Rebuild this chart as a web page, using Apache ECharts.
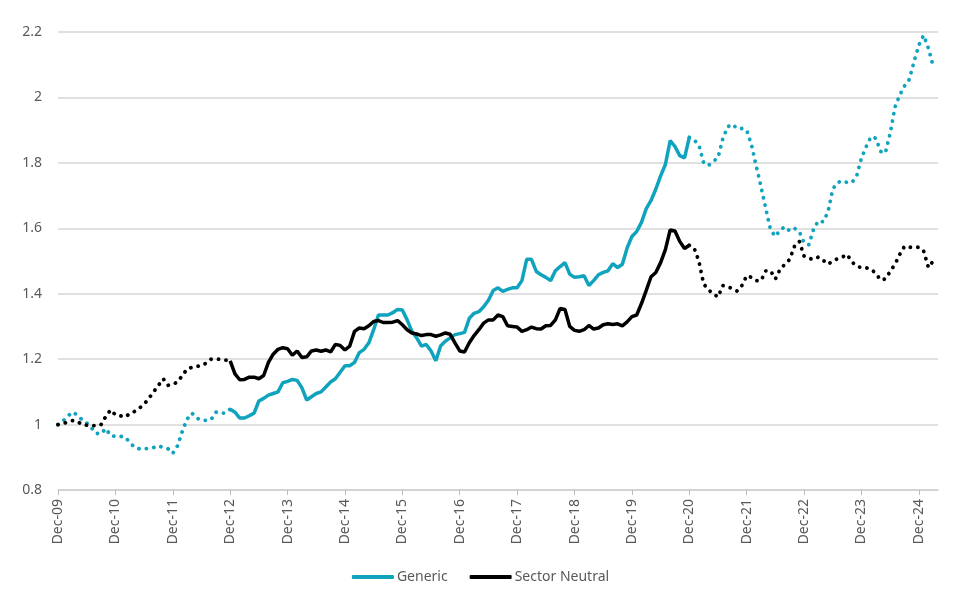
<!DOCTYPE html>
<html>
<head>
<meta charset="utf-8">
<script src="https://cdn.jsdelivr.net/npm/echarts@6/dist/echarts.min.js"></script>
<style>
html,body{margin:0;padding:0;background:#fff;}
#chart{width:961px;height:597px;}
</style>
</head>
<body>
<div id="chart"></div>
<script>
// Monthly observations, Dec-09 .. Mar-25
const genericValues = [
  1.0, 1.01, 1.025, 1.038, 1.03, 1.015, 1.005, 0.99, 0.973, 0.972, 0.988, 0.966, 0.964,
  0.964, 0.962, 0.946, 0.93, 0.926, 0.926, 0.927, 0.93, 0.935, 0.93, 0.926, 0.912,
  0.935, 0.98, 1.017, 1.035, 1.02, 1.013, 1.013, 1.015, 1.038, 1.035, 1.035, 1.047,
  1.038, 1.02, 1.02, 1.027, 1.035, 1.072, 1.08, 1.09, 1.095, 1.1, 1.128, 1.132,
  1.138, 1.135, 1.112, 1.075, 1.085, 1.095, 1.1, 1.115, 1.13, 1.14, 1.16, 1.18,
  1.18, 1.19, 1.22, 1.23, 1.25, 1.29, 1.335, 1.335, 1.335, 1.342, 1.352, 1.35,
  1.32, 1.285, 1.265, 1.24, 1.245, 1.225, 1.195, 1.24, 1.255, 1.265, 1.275, 1.278,
  1.282, 1.325, 1.34, 1.345, 1.36, 1.38, 1.41, 1.418, 1.407, 1.413, 1.418, 1.418,
  1.44, 1.505, 1.505, 1.468, 1.458, 1.45, 1.44, 1.47, 1.483, 1.495, 1.46, 1.45,
  1.452, 1.455, 1.425, 1.44, 1.458, 1.465, 1.47, 1.492, 1.48, 1.49, 1.54, 1.575,
  1.59, 1.618, 1.66, 1.685, 1.72, 1.76, 1.795, 1.868, 1.85, 1.822, 1.815, 1.878,
  1.87, 1.855, 1.8, 1.792, 1.805, 1.815, 1.873, 1.91, 1.918, 1.905, 1.905, 1.9,
  1.855, 1.79, 1.727, 1.66, 1.595, 1.575, 1.595, 1.605, 1.592, 1.6, 1.59, 1.555,
  1.55, 1.598, 1.623, 1.62, 1.65, 1.72, 1.74, 1.745, 1.74, 1.74, 1.76, 1.815,
  1.85, 1.88, 1.875, 1.835, 1.83, 1.89, 1.97, 2.007, 2.035, 2.055, 2.11, 2.16,
  2.19, 2.15, 2.095
];
const sectorNeutralValues = [
  1.0, 1.003, 1.007, 1.012, 1.01, 1.0, 0.998, 0.997, 0.996, 1.0, 1.025, 1.045, 1.03,
  1.027, 1.023, 1.033, 1.04, 1.05, 1.062, 1.08, 1.1, 1.12, 1.14, 1.12, 1.123,
  1.13, 1.15, 1.17, 1.175, 1.178, 1.18, 1.188, 1.2, 1.2, 1.2, 1.197, 1.195,
  1.155, 1.137, 1.138, 1.145, 1.145, 1.14, 1.15, 1.19, 1.215, 1.23, 1.235, 1.232,
  1.212, 1.225, 1.205, 1.207, 1.225, 1.228, 1.224, 1.228, 1.222, 1.245, 1.242, 1.228,
  1.24, 1.285, 1.295, 1.293, 1.302, 1.315, 1.318, 1.312, 1.312, 1.313, 1.318, 1.305,
  1.29, 1.28, 1.277, 1.272, 1.275, 1.275, 1.27, 1.274, 1.28, 1.276, 1.25, 1.225,
  1.222, 1.25, 1.272, 1.29, 1.31, 1.32, 1.32, 1.335, 1.33, 1.302, 1.3, 1.298,
  1.285, 1.29, 1.298, 1.293, 1.292, 1.302, 1.303, 1.32, 1.355, 1.352, 1.3, 1.288,
  1.285, 1.29, 1.303, 1.292, 1.295, 1.305, 1.308, 1.306, 1.308, 1.302, 1.314, 1.33,
  1.335, 1.37, 1.41, 1.452, 1.465, 1.495, 1.535, 1.595, 1.592, 1.56, 1.538, 1.548,
  1.54, 1.5, 1.43, 1.412, 1.4, 1.39, 1.425, 1.422, 1.415, 1.408, 1.425, 1.455,
  1.45, 1.44, 1.44, 1.47, 1.47, 1.445, 1.475, 1.49, 1.505, 1.545, 1.56, 1.515,
  1.508, 1.505, 1.512, 1.502, 1.49, 1.5, 1.507, 1.512, 1.52, 1.497, 1.485, 1.479,
  1.479, 1.475, 1.462, 1.442, 1.445, 1.468, 1.49, 1.52, 1.545, 1.542, 1.542, 1.542,
  1.53, 1.48, 1.5
];
// Category labels: months from Dec-09 to Apr-25
const monthNames = ['Jan','Feb','Mar','Apr','May','Jun','Jul','Aug','Sep','Oct','Nov','Dec'];
const categories = [];
for (let i = 0; i < 185; i++) {
  const mi = (11 + i) % 12;
  const yr = 9 + Math.floor((11 + i) / 12);
  categories.push(monthNames[mi] + '-' + String(yr).padStart(2, '0'));
}
const yTicks = [0.8, 1.0, 1.2, 1.4, 1.6, 1.8, 2.0, 2.2];
const solidStart = 36;  // Dec-12
const solidEnd = 132;   // Dec-20

function slice(values, from, to) {
  return values.map((v, i) => (i >= from && i <= to) ? v : null);
}

const TEAL = '#0fa3be';
const BLACK = '#000000';
const dotted = {width: 3.8, type: [0.1, 7.4], cap: 'round'};

const chart = echarts.init(document.getElementById('chart'));
chart.setOption({
  animation: false,
  grid: {left: 58, right: 23, top: 32, bottom: 107, containLabel: false},
  legend: {
    data: ['Generic', 'Sector Neutral'],
    bottom: 8,
    left: 'center',
    icon: 'roundRect',
    itemWidth: 42,
    itemHeight: 4,
    itemGap: 22,
    textStyle: {color: '#595959', fontSize: 14, fontFamily: 'Noto Sans', padding: [0, 0, 0, -2]}
  },
  xAxis: {
    type: 'category',
    data: categories,
    boundaryGap: false,
    axisLine: {lineStyle: {color: '#cfcfcf', width: 1.5}},
    axisTick: {show: true, interval: (i) => i % 12 === 0, length: 5, lineStyle: {color: '#bdbdbd'}},
    axisLabel: {
      interval: (i) => i % 12 === 0,
      rotate: 90,
      color: '#595959',
      fontSize: 14,
      fontFamily: 'Noto Sans',
      margin: 9
    },
    splitLine: {show: false}
  },
  yAxis: {
    type: 'value',
    min: yTicks[0],
    max: yTicks[yTicks.length - 1],
    interval: 0.2,
    axisLine: {show: false},
    axisTick: {show: false},
    axisLabel: {color: '#595959', fontSize: 14, fontFamily: 'Noto Sans', margin: 16},
    splitLine: {lineStyle: {color: '#e0e0e0', width: 2}}
  },
  series: [
    {name: 'Generic', type: 'line', data: slice(genericValues, solidStart, solidEnd),
     symbol: 'none', lineStyle: {color: TEAL, width: 3.5}, itemStyle: {color: TEAL}, z: 2},
    {name: 'Generic dotted', type: 'line', data: slice(genericValues, 0, solidStart),
     symbol: 'none', lineStyle: Object.assign({color: TEAL}, dotted), itemStyle: {color: TEAL}, z: 2},
    {name: 'Generic dotted 2', type: 'line', data: slice(genericValues, solidEnd, genericValues.length - 1),
     symbol: 'none', lineStyle: Object.assign({color: TEAL}, dotted), itemStyle: {color: TEAL}, z: 2},
    {name: 'Sector Neutral', type: 'line', data: slice(sectorNeutralValues, solidStart, solidEnd),
     symbol: 'none', lineStyle: {color: BLACK, width: 3.5}, itemStyle: {color: BLACK}, z: 3},
    {name: 'Sector Neutral dotted', type: 'line', data: slice(sectorNeutralValues, 0, solidStart),
     symbol: 'none', lineStyle: Object.assign({color: BLACK}, dotted), itemStyle: {color: BLACK}, z: 3},
    {name: 'Sector Neutral dotted 2', type: 'line', data: slice(sectorNeutralValues, solidEnd, sectorNeutralValues.length - 1),
     symbol: 'none', lineStyle: Object.assign({color: BLACK}, dotted), itemStyle: {color: BLACK}, z: 3}
  ]
});
</script>
</body>
</html>
